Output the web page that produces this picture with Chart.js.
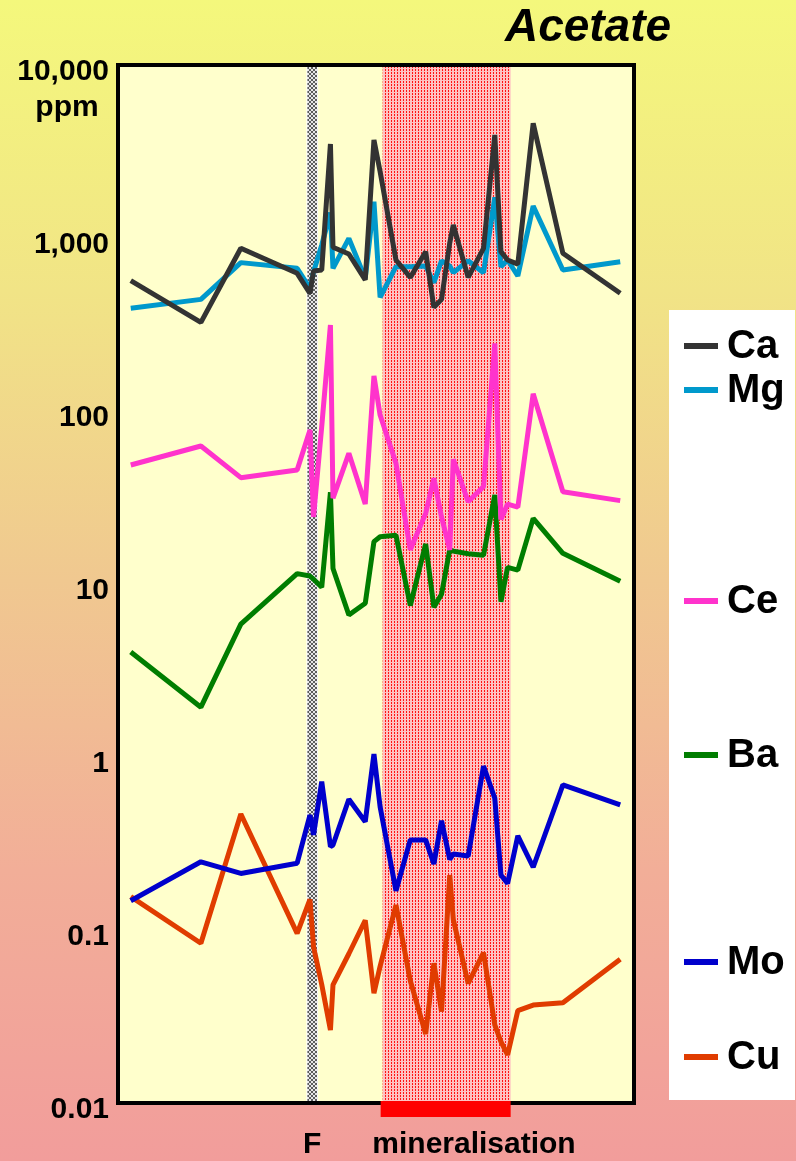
<!DOCTYPE html>
<html>
<head>
<meta charset="utf-8">
<script src="https://cdn.jsdelivr.net/npm/chart.js@4"></script>
<style>
  html, body { margin: 0; padding: 0; }
  #wrap { width: 796px; height: 1161px; position: relative; }
</style>
</head>
<body>
<div id="wrap"><canvas id="acetateChart"></canvas></div>
<script>
// sample positions along the traverse (m)
const sampleDist = [2.1, 15.8, 23.6, 34.6, 37.1, 37.8, 39.4, 41.1, 41.6, 44.7, 47.9, 49.6, 50.8, 53.9, 56.7, 59.7,
    61.3, 62.8, 64.4, 65.1, 68.0, 71.0, 73.2, 74.4, 75.7, 77.7, 80.7, 86.5, 97.7];

// acetate leach concentrations, ppm
const ca = [622, 357, 957, 686, 526, 708, 717, 3836, 970, 887, 628, 4046, 2659, 819, 650, 915,
    436, 485, 1027, 1305, 650, 957, 4325, 915, 819, 776, 5047, 896, 526];
const mg = [431, 485, 791, 733, 562, 698, 1000, 1537, 733, 1093, 642, 1779, 498, 749, 749, 756,
    605, 811, 756, 692, 811, 692, 1887, 749, 819, 662, 1679, 717, 800];
const ce = [53.5, 68.9, 45.2, 50.1, 85.3, 26.8, 89.4, 345, 34.4, 62.5, 31.8, 175, 104, 54.7, 17.3, 28.1,
    44.8, 26.8, 17.3, 57.7, 32.8, 40.1, 270, 25.9, 31.8, 30.5, 138, 37.5, 33.3];
const ba = [4.44, 2.13, 6.44, 12.6, 12.2, 11.7, 10.5, 37.2, 13.5, 7.26, 8.49, 19.3, 20.6, 21.0, 8.24, 18.7,
    8.05, 9.57, 17.3, 17.0, 16.4, 16.1, 35.9, 8.67, 13.7, 13.2, 26.3, 16.5, 11.4];
const mo = [0.162, 0.272, 0.233, 0.267, 0.507, 0.389, 0.791, 0.333, 0.340, 0.625, 0.464, 1.14, 0.566, 0.185, 0.364, 0.364,
    0.264, 0.470, 0.281, 0.302, 0.294, 0.973, 0.634, 0.228, 0.204, 0.384, 0.253, 0.757, 0.580];
const cu = [0.171, 0.0920, 0.514, 0.105, 0.165, 0.0879, 0.0531, 0.0290, 0.0528, 0.080, 0.125, 0.0473, 0.0676, 0.153, 0.0558, 0.0275,
    0.0705, 0.0370, 0.228, 0.126, 0.0539, 0.0811, 0.0310, 0.0248, 0.0208, 0.0375, 0.0404, 0.0417, 0.0743];

const tickValues = [0.01, 0.1, 1, 10, 100, 1000, 10000];
const tickLabels = ['0.01', '0.1', '1', '10', '100', '1,000', '10,000'];

const faultZone = [36.6, 38.5];
const mineralZone = [51.3, 76.3];

const FONT = "'Liberation Sans', Arial, sans-serif";

function series(label, values, color) {
    return {
        label: label,
        data: sampleDist.map((x, i) => ({ x: x, y: values[i] })),
        borderColor: color,
        backgroundColor: color,
        borderWidth: 5,
        borderJoinStyle: 'bevel',
        pointRadius: 0,
        tension: 0,
        fill: false
    };
}

function makePattern(size, base, ink, dots) {
    const c = document.createElement('canvas');
    c.width = size;
    c.height = size;
    const g = c.getContext('2d');
    g.fillStyle = base;
    g.fillRect(0, 0, size, size);
    g.fillStyle = ink;
    dots.forEach(d => g.fillRect(d[0], d[1], 1, 1));
    return c;
}

const dotTile = makePattern(3, '#ffc2c2', '#ff1414', [[1, 1], [1, 0]]);
const hatchTile = makePattern(4, '#e6e6e6', '#5c5c5c', [[0, 0], [1, 1], [2, 2], [3, 3], [3, 0], [2, 1], [1, 2], [0, 3]]);

// page background, plot fill, shaded zones and frame
const backdrop = {
    id: 'backdrop',
    beforeDraw(chart) {
        const ctx = chart.ctx;
        const a = chart.chartArea;
        const x = chart.scales.x;
        ctx.save();
        const grad = ctx.createLinearGradient(0, 0, 0, chart.height);
        grad.addColorStop(0, '#f4f87c');
        grad.addColorStop(0.25, '#f1e486');
        grad.addColorStop(0.5, '#f0c890');
        grad.addColorStop(0.75, '#f2ae98');
        grad.addColorStop(1, '#f29d9b');
        ctx.fillStyle = grad;
        ctx.fillRect(0, 0, chart.width, chart.height);

        ctx.fillStyle = '#ffffcc';
        ctx.fillRect(a.left, a.top, a.right - a.left, a.bottom - a.top);

        const m0 = x.getPixelForValue(mineralZone[0]);
        const m1 = x.getPixelForValue(mineralZone[1]);
        ctx.fillStyle = ctx.createPattern(dotTile, 'repeat');
        ctx.fillRect(m0, a.top, m1 - m0, a.bottom - a.top);

        const f0 = x.getPixelForValue(faultZone[0]);
        const f1 = x.getPixelForValue(faultZone[1]);
        ctx.fillStyle = '#ffffff';
        ctx.fillRect(f0 - 1, a.top, f1 - f0 + 2, a.bottom - a.top);
        ctx.fillStyle = ctx.createPattern(hatchTile, 'repeat');
        ctx.fillRect(f0, a.top, f1 - f0, a.bottom - a.top);

        ctx.strokeStyle = '#000';
        ctx.lineWidth = 4;
        ctx.strokeRect(a.left - 2, a.top - 2, a.right - a.left + 4, a.bottom - a.top + 4);

        // mineralisation bar under the axis
        ctx.fillStyle = '#ff0000';
        ctx.fillRect(m0 - 2, a.bottom, m1 - m0 + 2, 16);
        ctx.restore();
    },
    afterDraw(chart) {
        const ctx = chart.ctx;
        const x = chart.scales.x;
        const y = chart.scales.y;
        ctx.save();
        ctx.fillStyle = '#000';
        ctx.textBaseline = 'middle';

        // unit under the top tick
        ctx.font = 'bold 30px ' + FONT;
        ctx.textAlign = 'center';
        ctx.fillText('ppm', 67, y.getPixelForValue(10000) + 36);

        // zone captions
        ctx.fillText('F', x.getPixelForValue((faultZone[0] + faultZone[1]) / 2), 1145);
        ctx.fillText('mineralisation', 474, 1145);

        // title
        ctx.font = 'italic bold 46px ' + FONT;
        ctx.fillText('Acetate', 588, 28);

        // legend box, entries placed beside their curves
        const legendY = [346, 390, 601, 755, 962, 1057];
        ctx.fillStyle = '#ffffff';
        ctx.fillRect(669, 310, 126, 790);
        ctx.font = 'bold 40px ' + FONT;
        ctx.textAlign = 'left';
        chart.data.datasets.forEach((ds, i) => {
            ctx.fillStyle = ds.borderColor;
            ctx.fillRect(684, legendY[i] - 3, 34, 6);
            ctx.fillStyle = '#000';
            ctx.fillText(ds.label, 727, legendY[i] + 1);
        });
        ctx.restore();
    }
};

new Chart(document.getElementById('acetateChart'), {
    type: 'line',
    data: {
        datasets: [
            series('Ca', ca, '#333333'),
            series('Mg', mg, '#0099cc'),
            series('Ce', ce, '#ff33cc'),
            series('Ba', ba, '#007d00'),
            series('Mo', mo, '#0000cc'),
            series('Cu', cu, '#e03c00')
        ]
    },
    options: {
        responsive: true,
        maintainAspectRatio: false,
        animation: false,
        events: [],
        layout: { padding: { left: 0, top: 67, right: 164, bottom: 60 } },
        plugins: {
            legend: { display: false },
            tooltip: { enabled: false }
        },
        scales: {
            x: {
                type: 'linear',
                min: 0,
                max: 100,
                display: false
            },
            y: {
                type: 'logarithmic',
                bounds: 'data',
                min: 0.01127,
                max: 10690,
                afterBuildTicks: (axis) => {
                    axis.ticks = tickValues.map(v => ({ value: v }));
                },
                afterFit: (axis) => {
                    axis.width = 120;
                },
                grid: { display: false, drawTicks: false },
                border: { display: false },
                ticks: {
                    autoSkip: false,
                    padding: 11,
                    color: '#000',
                    font: { family: FONT, size: 30, weight: 'bold' },
                    callback: (value, i) => tickLabels[i]
                }
            }
        }
    },
    plugins: [backdrop]
});
</script>
</body>
</html>
